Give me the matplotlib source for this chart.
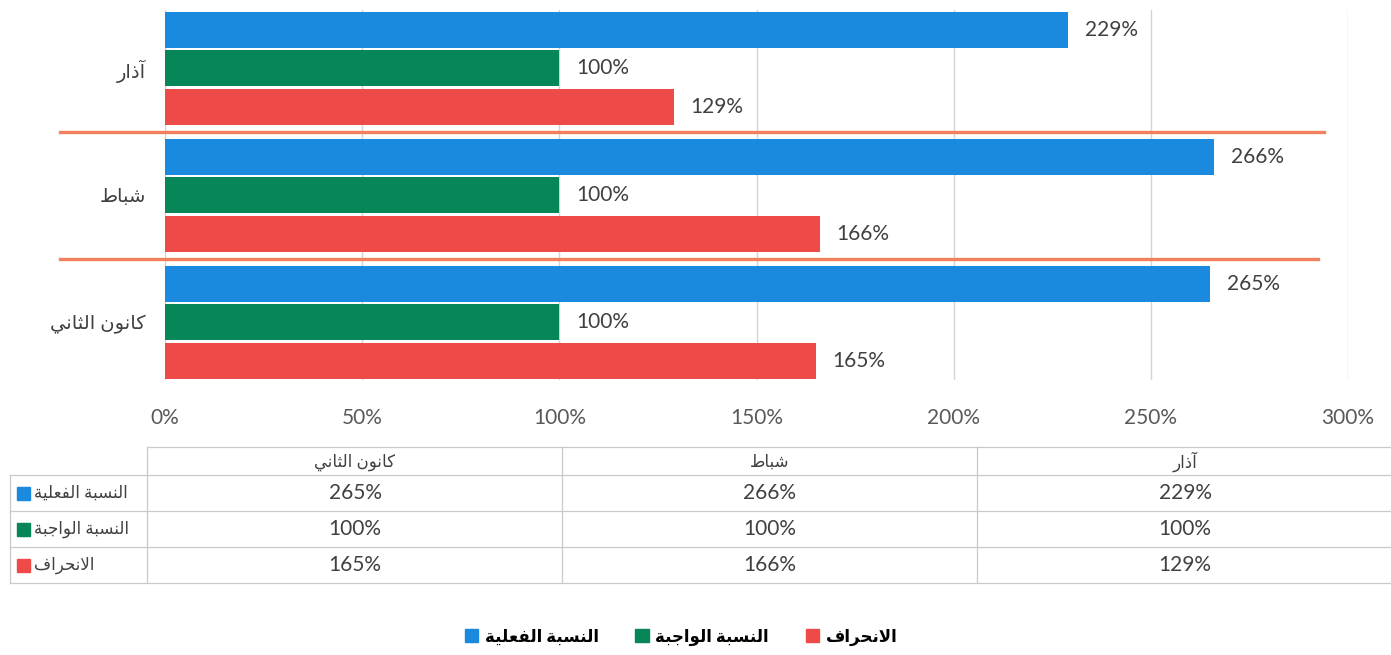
import matplotlib
matplotlib.use("Agg")
import matplotlib.pyplot as plt
from matplotlib.patches import Patch, Rectangle
import matplotlib.transforms as mtransforms

# --- data ---
months = ["كانون الثاني", "شباط", "آذار"]
series_names = ["النسبة الفعلية", "النسبة الواجبة", "الانحراف"]
actual = [265, 266, 229]
required = [100, 100, 100]
deviation = [165, 166, 129]
x_ticks = [0, 50, 100, 150, 200, 250, 300]

colors = ["#1a8ade", "#078657", "#ee4b48"]
sep_color = "#f2805e"
text_color = "#404040"

# --- minimal arabic shaping (matplotlib has no bidi/shaping) ---
FORMS = {
    "ا": (0xFE8D, 2), "آ": (0xFE81, 2), "ب": (0xFE8F, 4), "ة": (0xFE93, 2),
    "ت": (0xFE95, 4), "ث": (0xFE99, 4), "ج": (0xFE9D, 4), "ح": (0xFEA1, 4),
    "د": (0xFEA9, 2), "ذ": (0xFEAB, 2), "ر": (0xFEAD, 2), "ز": (0xFEAF, 2),
    "س": (0xFEB1, 4), "ش": (0xFEB5, 4), "ط": (0xFEC1, 4), "ع": (0xFEC9, 4),
    "ف": (0xFED1, 4), "ك": (0xFED9, 4), "ل": (0xFEDD, 4), "ن": (0xFEE5, 4),
    "و": (0xFEED, 2), "ي": (0xFEF1, 4),
}


def ar(txt):
    units = []
    i = 0
    while i < len(txt):
        c = txt[i]
        if c == "ل" and i + 1 < len(txt) and txt[i + 1] in "اآ":
            units.append((0xFEFB if txt[i + 1] == "ا" else 0xFEF5, 2))
            i += 2
            continue
        units.append(FORMS.get(c, (c, 0)))
        i += 1
    out = []
    for k, (base, n) in enumerate(units):
        if n == 0:
            out.append(base)
            continue
        prev = k > 0 and units[k - 1][1] == 4
        nxt = n == 4 and k + 1 < len(units) and units[k + 1][1] > 0
        if prev and nxt:
            code = base + 3
        elif prev:
            code = base + 1
        elif nxt:
            code = base + 2
        else:
            code = base
        out.append(chr(code))
    return "".join(out)[::-1]


plt.rcParams["font.family"] = ["Lato", "DejaVu Sans"]

W, H = 1391, 655
fig = plt.figure(figsize=(W / 100, H / 100), dpi=100)
ax = fig.add_axes([165 / W, 1 - 380 / H, (1348 - 165) / W, (380 - 10) / H])

pos = list(range(len(months)))
bh = 0.283
offs = [0.305, 0.0, -0.305]
for vals, off, col in zip([actual, required, deviation], offs, colors):
    ys = [p + off for p in pos]
    ax.barh(ys, vals, height=bh, color=col, zorder=2)
    for y, v in zip(ys, vals):
        ax.annotate(f"{v}%", (v, y), xytext=(12, 0), textcoords="offset points",
                    va="center", ha="left", fontsize=15, color=text_color)

ax.set_xlim(0, 300)
ax.set_ylim(-0.453, 2.46)
ax.set_xticks(x_ticks)
ax.set_xticklabels([f"{t}%" for t in x_ticks], fontsize=15, color="#595959")
ax.set_yticks(pos)
ax.set_yticklabels([ar(m) for m in months], fontsize=14, color=text_color)
ax.tick_params(axis="x", length=0, pad=20)
ax.tick_params(axis="y", length=0, pad=14)
ax.grid(axis="x", color="#d4d4d4", lw=1, zorder=0)
for s in ax.spines.values():
    s.set_visible(False)

# separators between month groups
trans = mtransforms.blended_transform_factory(ax.transAxes, ax.transData)
ax.plot([-0.089, 0.98], [1.5, 1.5], transform=trans, color=sep_color, lw=2.4, clip_on=False)
ax.plot([-0.089, 0.975], [0.5, 0.5], transform=trans, color=sep_color, lw=2.4, clip_on=False)

# --- data table under the chart ---
tab = fig.add_axes([0, 0, 1, 1])
tab.set_xlim(0, W)
tab.set_ylim(H, 0)
tab.axis("off")
lc = "#c9c9c9"
tab.plot([147, W], [447, 447], color=lc, lw=0.9)
for y in [475, 511, 547, 583]:
    tab.plot([10, W], [y, y], color=lc, lw=0.9)
tab.plot([10, 10], [475, 583], color=lc, lw=0.9)
for x in [147, 562, 977]:
    tab.plot([x, x], [447, 583], color=lc, lw=0.9)

col_x = [355, 770, 1185]
row_y = [493, 529, 565]
for cx, m in zip(col_x, months):
    tab.text(cx, 462, ar(m), ha="center", va="center", fontsize=12, color=text_color)
for ry, vals in zip(row_y, [actual, required, deviation]):
    for cx, v in zip(col_x, vals):
        tab.text(cx, ry, f"{v}%", ha="center", va="center", fontsize=15, color=text_color)
for ry, name, col in zip(row_y, series_names, colors):
    tab.add_patch(Rectangle((17, ry - 6), 13, 13, color=col))
    tab.text(34, ry, ar(name), ha="left", va="center", fontsize=12, color=text_color)

# --- legend ---
handles = [Patch(color=c) for c in colors]
fig.legend(handles, [ar(n) for n in series_names], loc="center",
           bbox_to_anchor=(681 / W, 1 - 637 / H), ncol=3, frameon=False,
           prop={"weight": "bold", "size": 12, "family": ["Lato", "DejaVu Sans"]},
           handlelength=0.8, handleheight=0.8, handletextpad=0.4, columnspacing=2.2)

fig.savefig("out.png", dpi=100)
